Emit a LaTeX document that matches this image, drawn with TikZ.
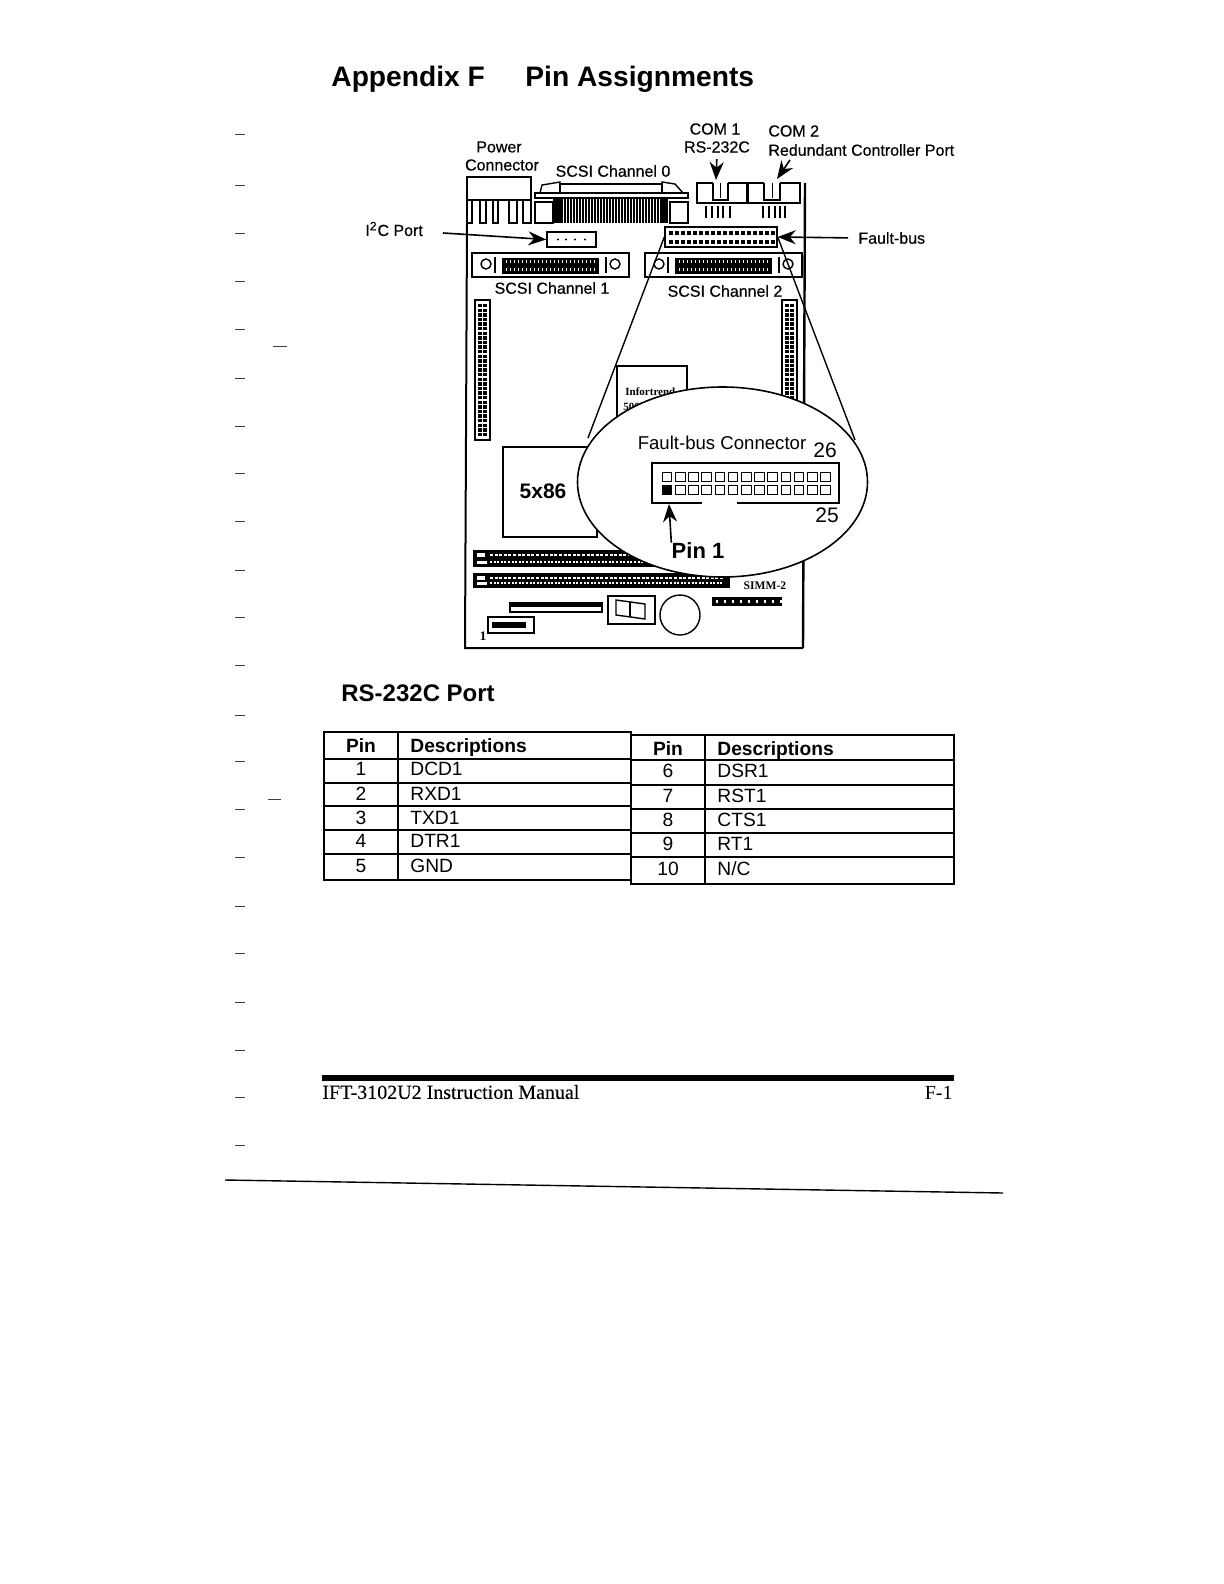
\documentclass[tikz,border=0pt]{standalone}
\usepackage{fontspec}
\setmainfont{Liberation Sans}
\newfontfamily\serifface{Liberation Serif}
\usetikzlibrary{arrows.meta,shapes.geometric}

\tikzset{
    lab/.style={inner sep=0pt, font=\fontsize{8}{9}\selectfont\addfontfeature{FakeBold=0.4}},
    cell/.style={inner sep=0pt, font=\fontsize{9.6}{11}\selectfont},
    cellhead/.style={inner sep=0pt, font=\fontsize{9.6}{11}\selectfont\bfseries},
    heading/.style={inner sep=0pt, anchor=west, font=\bfseries},
    callout/.style={-{Stealth[length=7pt,width=6pt]}, line width=0.7pt},
    bigcallout/.style={-{Stealth[length=9pt,width=7pt]}, line width=0.8pt},
    partbox/.style={draw, line width=0.7pt, inner sep=0pt, fill=white},
    pinbox/.style={draw, line width=0.5pt, inner sep=0pt, minimum width=4.8pt, minimum height=4.6pt},
    tableline/.style={line width=0.6pt},
    tableedge/.style={line width=1.3pt}
}

\begin{document}
\begin{tikzpicture}[x=0.5pt, y=-0.5pt, line cap=butt, line join=miter]

    \useasboundingbox (0,0) rectangle (1224,1584);

    % margin marks of the scan
    \foreach \ypos in {135,185,233,281,329,378,426,473,521,570,617,665,715,761,809,857,906,953,1002,1050,1097,1145} {
        \draw[line width=0.5pt, black!75] (235,\ypos) -- (245,\ypos);
    }
    \draw[line width=0.5pt, black!75] (273,346) -- (287,346);
    \draw[line width=0.5pt, black!75] (268,799) -- (281,799);

    \node[heading, font=\fontsize{14.1}{16}\selectfont\bfseries] (title) at (331,79) {Appendix F};
    \node[heading, font=\fontsize{14.1}{16}\selectfont\bfseries] (titleb) at (525,79) {Pin Assignments};

    % board
    \draw[line width=1pt] (467,223) -- (465,648) -- (803,648);
    \draw[line width=1.2pt] (803,648) -- (805,183);

    % power connector
    \draw[line width=0.7pt] (467,177) rectangle (531,200);
    \foreach \xa/\xb in {467/472,480/486,493/498,509/517,523/531} {
        \draw[line width=0.7pt] (\xa,200) rectangle (\xb,223);
    }

    % scsi 0
    \draw[line width=0.7pt] (540,193) -- (542,185) -- (560,182) -- (560,193);
    \draw[line width=0.7pt] (662,193) -- (662,182) -- (675,184) -- (683,193);
    \draw[line width=0.7pt] (560,184) rectangle (662,193);
    \draw[line width=0.8pt] (535,193) rectangle (688,198);
    \draw[line width=0.7pt] (535,202) rectangle (553,223);
    \draw[line width=0.7pt] (670,202) rectangle (688,223);
    \foreach \xpos in {556,559,...,668} {
        \draw[line width=0.9pt] (\xpos,199) -- (\xpos,223);
    }
    \fill (553,199) rectangle (561,223);
    \fill (660,199) rectangle (668,223);

    % com ports
    \foreach \xa/\xb/\xc/\xd in {697/713/728/747,748/764/780/800} {
        \draw[line width=0.8pt] (\xb,183) -- (\xa,183) -- (\xa,203) -- (\xd,203) -- (\xd,183) -- (\xc,183);
        \draw[line width=0.8pt] (\xb,183) -- (\xb,200) -- (\xc,200) -- (\xc,183);
        \draw[line width=0.5pt] ({(\xb+\xc)/2},183) -- ({(\xb+\xc)/2},198);
    }
    \foreach \xpos in {706,712,718,723,730,763,769,775,780,785} {
        \draw[line width=0.8pt] (\xpos,206) -- (\xpos,218);
    }
    \node[lab] (comone) at (715,129) {COM 1};
    \node[lab] (rsport) at (717,147) {RS-232C};
    \node[lab, anchor=west] (comtwo) at (768,131) {COM 2};
    \node[lab, anchor=west] (redport) at (768,150) {Redundant Controller Port};
    \coordinate (comoneend) at (716,180);
    \coordinate (comtwostart) at (790,160);
    \coordinate (comtwoend) at (777,179);
    \draw[bigcallout, shorten <=3pt] (rsport.south) -- (comoneend);
    \draw[bigcallout] (comtwostart) -- (comtwoend);

    \node[lab] (powera) at (499,147) {Power};
    \node[lab] (powerb) at (502,165) {Connector};
    \node[lab] (scsizero) at (613,171) {SCSI Channel 0};
    \node[lab] (scsione) at (552,288) {SCSI Channel 1};
    \node[lab] (scsitwo) at (725,291) {SCSI Channel 2};

    % i2c port
    \node[partbox, minimum width=24.5pt, minimum height=7.5pt] (i2cport) at (571.5,239.5) {};
    \foreach \xpos in {558,566,575,585} {
        \fill (\xpos,239.5) circle (1.2);
    }
    \node[lab, anchor=west] (i2clab) at (365,229) {I\textsuperscript{2}C Port};
    \coordinate (i2cstart) at (443,233);
    \draw[bigcallout] (i2cstart) -- (i2cport.west);

    % fault-bus connector on the board
    \node[partbox, minimum width=56pt, minimum height=10pt] (faultconn) at (721,237) {};
    \foreach \row in {233,242} {
        \foreach \xpos in {671,677,...,773} {
            \fill (\xpos-2,\row-2) rectangle (\xpos+2,\row+2);
        }
    }
    \node[lab, anchor=west] (faultlab) at (858,238) {Fault-bus};
    \draw[bigcallout, shorten <=5pt] (faultlab.west) -- (faultconn.east);

    % scsi 1 and 2
    \foreach \xa/\xb in {472/629,645/802} {
        \draw[line width=0.8pt] (\xa,253) rectangle (\xb,277);
        \draw[line width=0.7pt] (\xa+14,264) circle (5);
        \draw[line width=0.7pt] (\xb-14,264) circle (5);
        \draw[line width=0.8pt] (\xa+23,257) -- (\xa+23,273);
        \draw[line width=0.8pt] (\xb-23,257) -- (\xb-23,273);
        \fill (\xa+30,258) rectangle (\xb-30,274);
        \foreach \xpos in {4,8,...,92} {
            \fill[white] ({\xa+30+\xpos},260) rectangle ({\xa+31+\xpos},263);
            \fill[white] ({\xb-31-\xpos},268) rectangle ({\xb-30-\xpos},271);
        }
    }

    % side connectors
    \draw[line width=0.7pt] (475,300) rectangle (490,440);
    \draw[line width=0.7pt] (782,300) rectangle (797,410);
    \foreach \xpos in {480,485,787,792} {
        \draw[line width=1.8pt, dash pattern=on 1.7pt off 0.6pt] (\xpos,304) -- (\xpos,{\xpos<500 ? 436 : 408});
    }

    % controller chips
    \draw[line width=0.7pt] (617,366) rectangle (687,470);
    \node[inner sep=0pt, anchor=west, font=\fontsize{5.5}{6}\serifface\bfseries] (chipname) at (625,392) {Infortrend};
    \node[inner sep=0pt, anchor=west, font=\fontsize{5.5}{6}\serifface\bfseries] (chipnum) at (623,407) {5005};
    \draw[line width=0.8pt, fill=white] (503,447) rectangle (597,537);
    \node[inner sep=0pt, font=\fontsize{10.5}{12}\selectfont\bfseries] (cpu) at (543,491) {5x86};

    % simm slots
    \foreach \ya/\yb/\xend in {550/567/660,573/588/730} {
        \fill (473,\ya) rectangle (\xend,\yb);
        \draw[white, line width=1.2pt, dash pattern=on 1.5pt off 0.8pt] (490,{\ya+5}) -- (\xend-6,{\ya+5});
        \draw[white, line width=0.8pt, dash pattern=on 1pt off 0.8pt] (490,{\yb-5}) -- (\xend-6,{\yb-5});
        \fill[white] (477,\ya+3) rectangle (485,\ya+7);
        \fill[white] (477,\yb-6) rectangle (487,\yb-3);
    }
    \node[inner sep=0pt, font=\fontsize{5.8}{7}\serifface\bfseries] (simm) at (765,586) {SIMM-2};
    \fill (712,597) rectangle (782,606);
    \foreach \xpos in {716,724,...,780} {
        \fill[white] (\xpos,600) rectangle (\xpos+2,603);
    }

    % parts along the lower edge
    \draw[line width=1.1pt] (510,603) rectangle (602,612);
    \fill (511,604) rectangle (601,607);
    \draw[line width=0.8pt] (608,596) rectangle (655,624);
    \draw[line width=0.7pt] (616,600) -- (645,604) -- (645,619) -- (616,615) -- cycle;
    \draw[line width=0.7pt] (630,602) -- (630,617);
    \draw[line width=0.7pt] (680,615) circle (20);
    \draw[line width=0.8pt] (488,617) rectangle (534,633);
    \fill (492,622) rectangle (526,628);
    \node[inner sep=0pt, font=\fontsize{6.5}{7}\serifface\bfseries] (pinmark) at (483,636) {1};

    % zoom cone and bubble
    \coordinate (coneleft) at (588,438);
    \coordinate (coneright) at (855,440);
    \draw[line width=0.7pt] (faultconn.west) -- (coneleft);
    \draw[line width=0.7pt] (faultconn.east) -- (coneright);
    \node[draw, ellipse, fill=white, line width=0.8pt, inner sep=0pt, minimum width=145pt, minimum height=95pt] (bubble) at (722.5,482) {};

    \node[inner sep=0pt, font=\fontsize{9.3}{11}\selectfont] (bubbletitle) at (722,443) {Fault-bus Connector};
    \node[inner sep=0pt, font=\fontsize{10.5}{12}\selectfont] (lastpin) at (825,450) {26};
    \node[inner sep=0pt, font=\fontsize{10.5}{12}\selectfont] (lowpin) at (827,515) {25};
    \node[inner sep=0pt, font=\fontsize{11}{13}\selectfont\bfseries] (pinlab) at (698,551) {Pin 1};

    \draw[line width=1.2pt] (702,503) -- (652,503) -- (652,463) -- (839,463) -- (839,503) -- (737,503);
    \foreach \col in {0,...,12} {
        \node[pinbox] (pintop\col) at ({667+13.2*\col},477) {};
        \node[pinbox] (pinlow\col) at ({667+13.2*\col},490) {};
    }
    \fill (pinlow0.south west) rectangle (pinlow0.north east);
    \coordinate (pinend) at (669,504);
    \draw[bigcallout] (pinlab.north west) -- (pinend);

    % rs-232c table
    \node[heading, font=\fontsize{12}{14}\selectfont\bfseries] (rstitle) at (341,693) {RS-232C Port};

    \foreach \yleft/\yright in {759/760,783/785,806/809,830/833,854/857} {
        \draw[tableline] (324,\yleft) -- (631,\yleft);
        \draw[tableline] (631,\yright) -- (954,\yright);
    }
    \draw[tableline] (398,732) -- (398,880);
    \draw[tableline] (705,735) -- (705,884);
    \draw[tableedge] (324,732) rectangle (631,880);
    \draw[tableedge] (631,735) rectangle (954,884);

    \node[cellhead] (pinhead) at (361,746) {Pin};
    \node[cellhead, anchor=west] (deschead) at (410,748) {Descriptions};
    \node[cellhead] (pinheadb) at (668,749) {Pin};
    \node[cellhead, anchor=west] (descheadb) at (717,751) {Descriptions};

    \foreach \ypos/\pin/\sig in {769/1/DCD1,794/2/RXD1,818/3/TXD1,841/4/DTR1,866/5/GND} {
        \node[cell] (pin\pin) at (361,\ypos) {\pin};
        \node[cell, anchor=west] (sig\pin) at (410,\ypos) {\sig};
    }
    \foreach \ypos/\pin/\sig in {771/6/DSR1,796/7/RST1,820/8/CTS1,844/9/RT1,869/10/N\slash C} {
        \node[cell] (pin\pin) at (668,\ypos) {\pin};
        \node[cell, anchor=west] (sig\pin) at (717,\ypos) {\sig};
    }

    % footer
    \fill (322,1075) rectangle (954,1081);
    \node[inner sep=0pt, anchor=west, font=\fontsize{10}{12}\serifface\addfontfeature{FakeBold=0.2}] (manual) at (322,1092) {IFT-3102U2 Instruction Manual};
    \node[inner sep=0pt, anchor=east, font=\fontsize{10}{12}\serifface] (pageno) at (953,1093) {F-1};
    \draw[line width=0.7pt] (225,1180) -- (1003,1193);

\end{tikzpicture}
\end{document}
